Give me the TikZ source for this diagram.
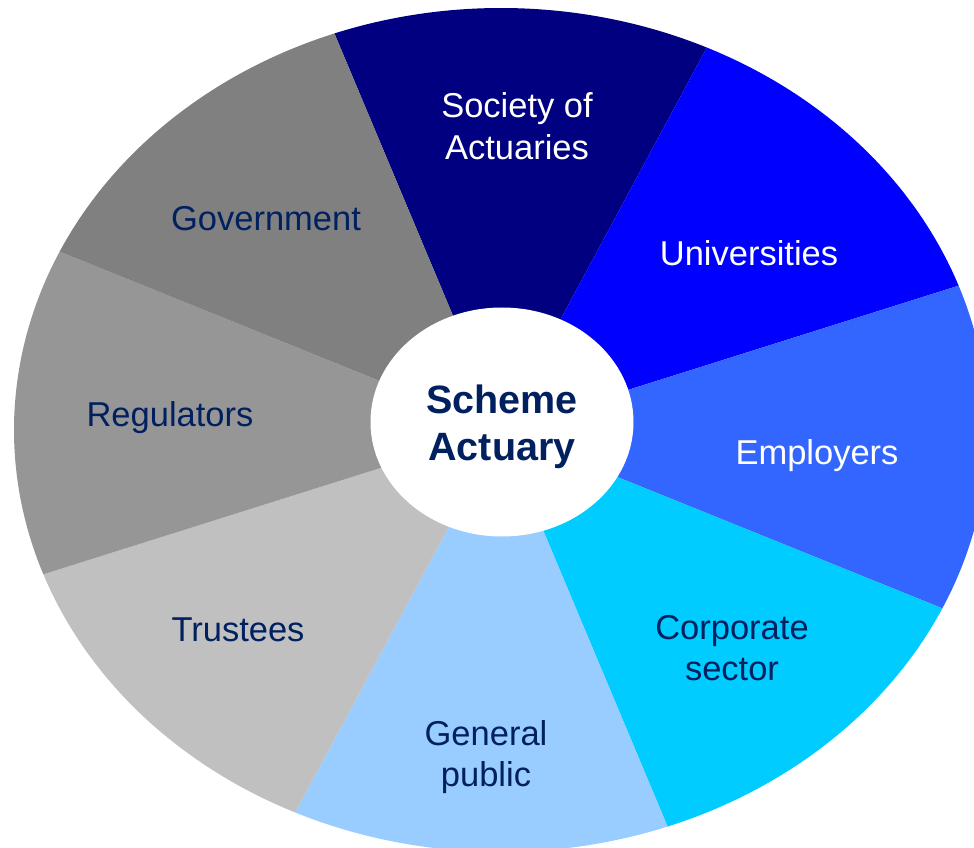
\documentclass[tikz,border=0pt]{standalone}
\usepackage{fontspec}
\setmainfont{Liberation Sans}
\usetikzlibrary{shapes.geometric}

\definecolor{societyfill}{RGB}{0,0,128}
\definecolor{universityfill}{RGB}{0,0,255}
\definecolor{employerfill}{RGB}{51,102,255}
\definecolor{corporatefill}{RGB}{0,204,255}
\definecolor{publicfill}{RGB}{153,204,255}
\definecolor{trusteefill}{RGB}{192,192,192}
\definecolor{regulatorfill}{RGB}{150,150,150}
\definecolor{governmentfill}{RGB}{128,128,128}
\definecolor{navytext}{RGB}{0,32,96}

\tikzset{
  sectorlabel/.style={align=center, font=\fontsize{34.5}{41.4}\selectfont},
  darklabel/.style={sectorlabel, text=navytext},
  lightlabel/.style={sectorlabel, text=white},
}

\begin{document}
\begin{tikzpicture}[x=1pt,y=1pt]
  \useasboundingbox (-501,-418) rectangle (473,430);

  % Draw the sectors of the wheel
  \foreach \from/\to/\col in {65/110/societyfill, 20/65/universityfill,
      -25/20/employerfill, -70/-25/corporatefill, -115/-70/publicfill,
      200/245/trusteefill, 155/200/regulatorfill, 110/155/governmentfill}
    \fill[\col] (0,0) -- (\from:487pt and 422pt)
      arc[start angle=\from, end angle=\to, x radius=487pt, y radius=422pt] -- cycle;

  % Centre of the wheel
  \node[ellipse, fill=white, minimum width=263pt, minimum height=229pt,
    inner sep=0pt] (actuary) at (1,8) {};
  \node[align=center, text=navytext, font=\bfseries\fontsize{39.5}{47.4}\selectfont]
    (actuarylabel) at ([yshift=-5pt]actuary.center) {Scheme\\Actuary};

  % Labels of the sectors
  \node[lightlabel] (society) at (16,304) {Society of\\Actuaries};
  \node[lightlabel] (universities) at (248,177) {Universities};
  \node[lightlabel] (employers) at (316,-26) {Employers};
  \node[darklabel] (corporate) at (231,-218) {Corporate\\sector};
  \node[darklabel] (public) at (-15,-327) {General\\public};
  \node[darklabel] (trustees) at (-263,-200) {Trustees};
  \node[darklabel] (regulators) at (-331,12) {Regulators};
  \node[darklabel] (government) at (-235,211) {Government};
\end{tikzpicture}
\end{document}
